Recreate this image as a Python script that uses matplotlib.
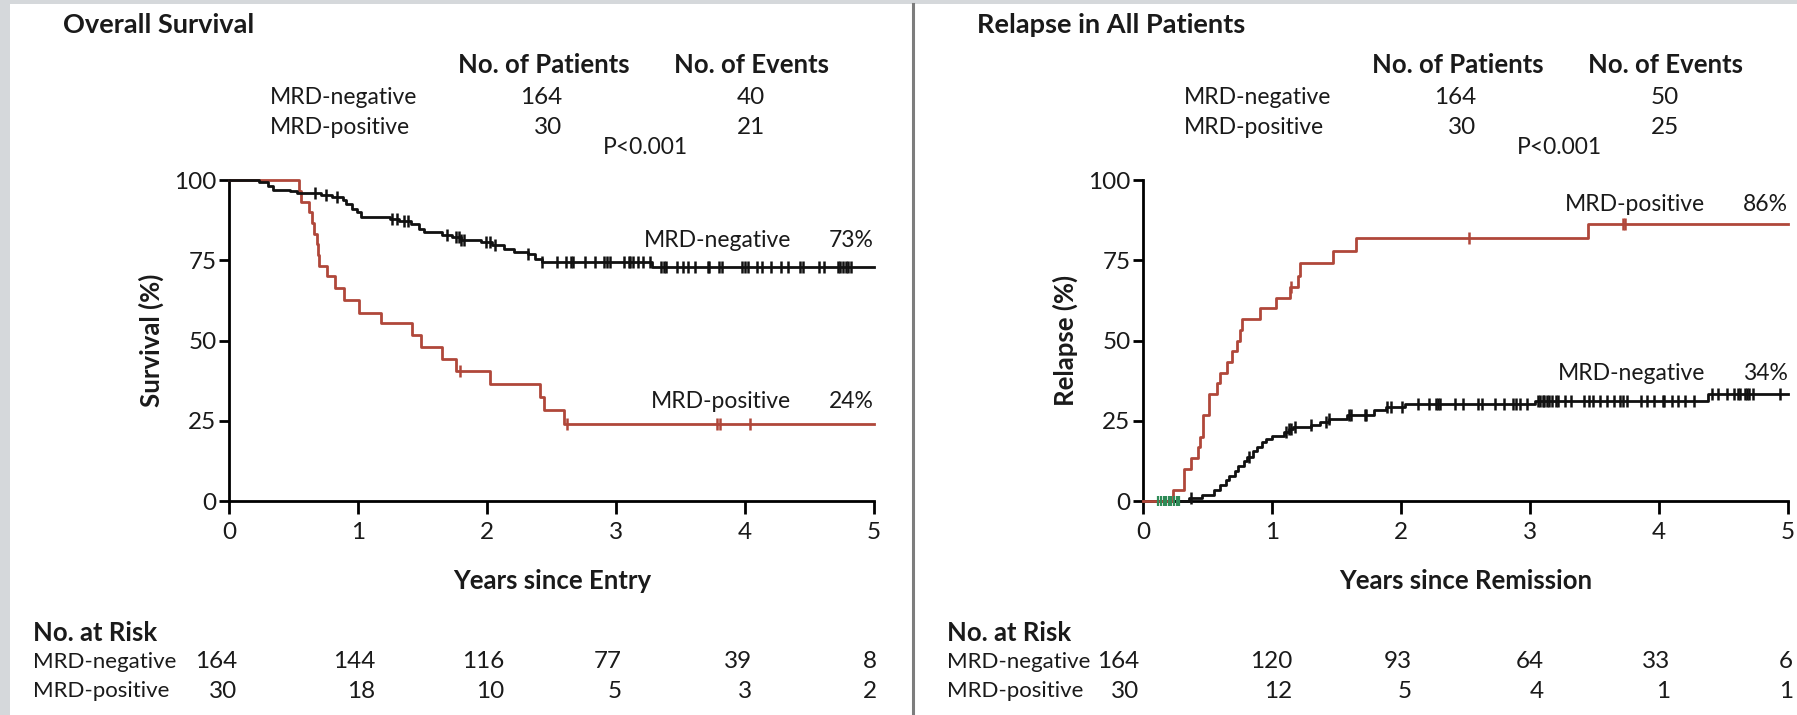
import numpy as np
import matplotlib
matplotlib.use("Agg")
import matplotlib.pyplot as plt
from matplotlib.patches import Rectangle
from matplotlib.lines import Line2D

plt.rcParams['font.family'] = ['Lato', 'DejaVu Sans']

W, H = 1797, 715
RED = '#b0473a'
BLACK = '#111111'
GREEN = '#2e8b57'
FS = 16.5      # regular words
FSN = 17.5     # numbers
FSB = 18.5     # bold text
FST = 19.5     # panel titles

# ---------------- data ----------------
groups = ["MRD-negative", "MRD-positive"]
years = [0, 1, 2, 3, 4, 5]
yticks = [0, 25, 50, 75, 100]

# Overall survival
os_patients = [164, 30]
os_events = [40, 21]
os_pvalue = "P<0.001"
os_neg_t = [0, 0.23, 0.30, 0.34, 0.47, 0.53, 0.71, 0.80, 0.88, 0.91, 0.95, 0.99, 1.02,
            1.25, 1.32, 1.41, 1.47, 1.51, 1.65, 1.73, 1.80, 1.95, 2.04, 2.13, 2.21,
            2.32, 2.37, 2.43, 3.28]
os_neg_s = [100, 99.4, 98.0, 97.0, 96.6, 96.0, 95.4, 94.7, 93.8, 92.5, 91.0, 90.0, 88.5,
            87.9, 87.2, 86.3, 84.8, 83.7, 83.0, 82.2, 81.4, 80.6, 79.6, 78.5, 77.5,
            76.8, 75.4, 74.4, 73.0]
os_neg_cens = [0.67, 0.75, 0.84, 1.26, 1.30, 1.36, 1.39, 1.69, 1.76, 1.78, 1.80, 1.82,
               1.99, 2.02, 2.06, 2.32, 2.43, 2.54, 2.61, 2.65, 2.67, 2.76, 2.84, 2.91,
               2.93, 2.95, 3.06, 3.10, 3.11, 3.13, 3.17, 3.21, 3.26, 3.35, 3.37, 3.39,
               3.47, 3.52, 3.56, 3.61, 3.71, 3.72, 3.80, 3.82, 3.98, 4.00, 4.02, 4.09,
               4.13, 4.20, 4.28, 4.33, 4.43, 4.45, 4.57, 4.61, 4.72, 4.74, 4.76, 4.78,
               4.80, 4.82]
os_pos_t = [0, 0.54, 0.56, 0.62, 0.64, 0.66, 0.68, 0.69, 0.70, 0.76, 0.82, 0.89, 1.01,
            1.18, 1.42, 1.49, 1.65, 1.76, 2.02, 2.41, 2.44, 2.60]
os_pos_s = [100, 96.7, 93.3, 90.0, 86.7, 83.3, 80.0, 76.7, 73.3, 70.0, 66.3, 62.5, 58.7,
            55.3, 51.8, 48.0, 44.2, 40.6, 36.5, 32.5, 28.2, 24.1]
os_pos_cens = [1.79, 2.62, 3.78, 3.81, 4.04]
os_final = ["73%", "24%"]
os_risk_neg = [164, 144, 116, 77, 39, 8]
os_risk_pos = [30, 18, 10, 5, 3, 2]

# Relapse
rel_patients = [164, 30]
rel_events = [50, 25]
rel_pvalue = "P<0.001"
rel_pos_t = [0, 0.235, 0.32, 0.37, 0.43, 0.44, 0.465, 0.51, 0.57, 0.60, 0.65, 0.69,
             0.73, 0.75, 0.77, 0.91, 1.03, 1.14, 1.20, 1.22, 1.47, 1.65, 3.45]
rel_pos_c = [0, 3.3, 10.0, 13.3, 16.7, 20.0, 26.7, 33.3, 36.7, 40.0, 43.3, 46.7,
             50.0, 53.3, 56.7, 60.0, 63.3, 66.7, 70.0, 74.0, 78.0, 81.8, 86.2]
rel_pos_cens = [1.15, 2.53, 3.72, 3.74]
rel_neg_t = [0, 0.36, 0.46, 0.55, 0.60, 0.64, 0.67, 0.71, 0.74, 0.78, 0.81, 0.85, 0.88,
             0.92, 0.95, 1.00, 1.09, 1.13, 1.16, 1.30, 1.37, 1.44, 1.58, 1.79, 1.88,
             2.03, 3.04, 4.38]
rel_neg_c = [0, 1.0, 2.0, 3.3, 5.0, 6.5, 7.8, 9.5, 11.0, 12.5, 13.8, 15.5, 16.8,
             18.3, 19.4, 20.4, 21.5, 22.5, 23.2, 23.8, 24.6, 25.6, 26.7, 28.2, 29.3,
             30.2, 31.3, 33.4]
rel_neg_cens = [0.37, 0.82, 1.11, 1.13, 1.15, 1.18, 1.30, 1.42, 1.44, 1.60, 1.61, 1.72,
                1.73, 1.89, 1.92, 2.01, 2.13, 2.22, 2.27, 2.29, 2.30, 2.42, 2.48, 2.60,
                2.63, 2.73, 2.80, 2.87, 2.89, 2.92, 2.98, 3.06, 3.08, 3.10, 3.11, 3.13,
                3.15, 3.17, 3.20, 3.22, 3.27, 3.32, 3.42, 3.46, 3.49, 3.54, 3.60, 3.65,
                3.70, 3.72, 3.75, 3.86, 3.91, 3.96, 4.03, 4.04, 4.10, 4.15, 4.20, 4.27,
                4.41, 4.46, 4.53, 4.58, 4.61, 4.63, 4.67, 4.68, 4.70, 4.73, 4.94]
rel_early_cens = [0.12, 0.14, 0.16, 0.18, 0.20, 0.22, 0.24, 0.26, 0.28]
rel_final = ["86%", "34%"]
rel_risk_neg = [164, 120, 93, 64, 33, 6]
rel_risk_pos = [30, 12, 5, 4, 1, 1]

# ---------------- figure ----------------
fig = plt.figure(figsize=(W / 100, H / 100), dpi=100)
fig.patch.set_facecolor('white')


def fx(px):
    return px / W


def fy(py):
    return 1 - py / H


def T(x, y, s, **kw):
    kw.setdefault('fontsize', FS)
    kw.setdefault('color', '#1a1a1a')
    fig.text(fx(x), fy(y), s, **kw)


# gray frame strips and divider
fig.add_artist(Rectangle((0, 0), fx(10), 1, transform=fig.transFigure,
                         facecolor='#d5d8db', edgecolor='none', zorder=0))
fig.add_artist(Rectangle((0, fy(4)), 1, 1 - fy(4), transform=fig.transFigure,
                         facecolor='#d5d8db', edgecolor='none', zorder=0))
fig.add_artist(Line2D([fx(913), fx(913)], [0, fy(4)], transform=fig.transFigure,
                      color='#7d7d7d', lw=2.2))


def step_values(t, v, q):
    t = np.asarray(t)
    v = np.asarray(v)
    idx = np.searchsorted(t, q, side='right') - 1
    return v[idx]


def panel(dx, title, ylabel, xlabel, patients, events, pval,
          curves, labels, risk_neg, risk_pos, risk_dx):
    ax = fig.add_axes([fx(229 + dx), fy(501), fx(645), (501 - 180) / H])
    for (t, v, cens, col) in curves:
        tt = list(t) + [5.0]
        vv = list(v) + [v[-1]]
        ax.step(tt, vv, where='post', color=col, lw=2.0, zorder=3, clip_on=False)
        if len(cens):
            cy = step_values(t, v, np.asarray(cens))
            ax.plot(cens, cy, ls='none', marker='|', ms=8, mew=1.8, color=col,
                    zorder=4, clip_on=False)
    ax.set_xlim(0, 5)
    ax.set_ylim(0, 100)
    ax.set_xticks(years)
    ax.set_yticks(yticks)
    ax.set_xticklabels([str(y) for y in years])
    ax.set_yticklabels([str(y) for y in yticks])
    for s in ['top', 'right']:
        ax.spines[s].set_visible(False)
    for s in ['left', 'bottom']:
        ax.spines[s].set_linewidth(2.0)
        ax.spines[s].set_color('black')
    ax.tick_params(axis='y', direction='out', length=7, width=2.0, pad=2,
                   labelsize=FSN, labelcolor='#1a1a1a')
    ax.tick_params(axis='x', direction='out', length=9, width=2.0, pad=6,
                   labelsize=FSN, labelcolor='#1a1a1a')
    ax.set_facecolor('none')

    # header text
    T(63 + dx, 25, title, fontweight='bold', fontsize=FST, ha='left', va='center')
    T(544 + dx, 65, "No. of Patients", fontweight='bold', fontsize=FSB,
      ha='center', va='center')
    T(751 + dx, 65, "No. of Events", fontweight='bold', fontsize=FSB,
      ha='center', va='center')
    for i, (g, yy) in enumerate(zip(groups, [97, 128])):
        T(270 + dx, yy, g, ha='left', va='center')
        T(562 + dx, yy, str(patients[i]), fontsize=FSN, ha='right', va='center')
        T(751 + dx, yy, str(events[i]), fontsize=FSN, ha='center', va='center')
    T(645 + dx, 147, pval, ha='center', va='center')

    # axis labels
    T(151 + dx, 340, ylabel, fontweight='bold', fontsize=FSB, rotation=90,
      ha='center', va='center')
    T(552 + dx, 581, xlabel, fontweight='bold', fontsize=FSB, ha='center', va='center')

    # curve labels
    for (name, pct, yy) in labels:
        T(791 + dx, yy, name, ha='right', va='center')
        T(874 + dx, yy, pct, ha='right', va='center')

    # risk table
    T(33 + dx, 633, "No. at Risk", fontweight='bold', fontsize=FSB, ha='left', va='center')
    T(33 + dx, 662, groups[0], fontsize=16, ha='left', va='center')
    T(33 + dx, 691, groups[1], fontsize=16, ha='left', va='center')
    for k, yv in enumerate(years):
        xr = 229 + dx + yv * 129 + risk_dx[k]
        T(xr, 662, str(risk_neg[k]), fontsize=FSN, ha='right', va='center')
        T(xr, 691, str(risk_pos[k]), fontsize=FSN, ha='right', va='center')
    return ax


ax1 = panel(0, "Overall Survival", "Survival (%)", "Years since Entry",
            os_patients, os_events, os_pvalue,
            [(os_pos_t, os_pos_s, os_pos_cens, RED),
             (os_neg_t, os_neg_s, os_neg_cens, BLACK)],
            [("MRD-negative", os_final[0], 241), ("MRD-positive", os_final[1], 401)],
            os_risk_neg, os_risk_pos, [8, 17, 17, 6, 7, 3])

ax2 = panel(914, "Relapse in All Patients", "Relapse (%)", "Years since Remission",
            rel_patients, rel_events, rel_pvalue,
            [(rel_neg_t, rel_neg_c, rel_neg_cens, BLACK),
             (rel_pos_t, rel_pos_c, rel_pos_cens, RED)],
            [("MRD-positive", rel_final[0], 205), ("MRD-negative", rel_final[1], 374)],
            rel_risk_neg, rel_risk_pos, [-4, 20, 11, 14, 11, 5])
ax2.plot(rel_early_cens, np.zeros(len(rel_early_cens)), ls='none', marker='|', ms=7,
         mew=1.6, color=GREEN, zorder=5, clip_on=False)

fig.savefig("out.png", dpi=100, facecolor='white')
